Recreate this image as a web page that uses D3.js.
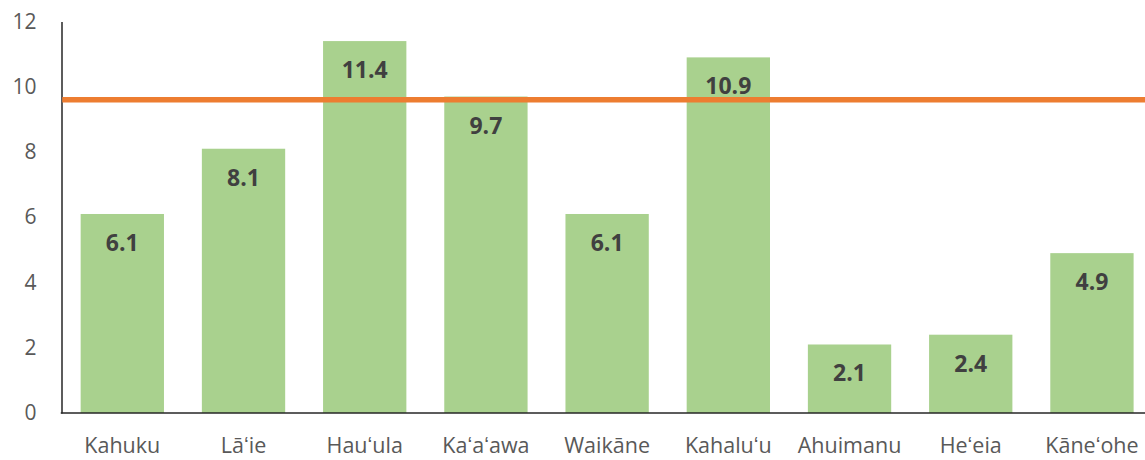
<!DOCTYPE html>
<html>
<head>
<meta charset="utf-8">
<script src="https://cdn.jsdelivr.net/npm/d3@7"></script>
<style>
  html, body { margin: 0; padding: 0; background: #ffffff; }
  svg { display: block; }
</style>
</head>
<body>
<svg id="chart" width="1145" height="460"></svg>
<script>
const categories = ["Kahuku", "Lāʻie", "Hauʻula", "Kaʻaʻawa", "Waikāne", "Kahaluʻu", "Ahuimanu", "Heʻeia", "Kāneʻohe"];
const values = [6.1, 8.1, 11.4, 9.7, 6.1, 10.9, 2.1, 2.4, 4.9];
const referenceValue = [9.6];
const yTicks = [0, 2, 4, 6, 8, 10, 12];

(function () {
const W = 1145, H = 460;
const svg = d3.select("#chart");
const mLeft = 61.5, mBottom = 413, mTop = 21.5;
const step = 121.25;

const x = d3.scaleBand()
  .domain(categories)
  .range([mLeft, mLeft + step * categories.length])
  .paddingInner(0.3126)
  .paddingOuter(0.158);

const y = d3.scaleLinear().domain([0, 12]).range([mBottom, mTop]);

const rows = categories.map((c, i) => ({ c, v: values[i] }));

// bars
svg.append("g").selectAll("rect")
  .data(rows)
  .join("rect")
  .attr("x", d => x(d.c))
  .attr("y", d => y(d.v))
  .attr("width", x.bandwidth())
  .attr("height", d => y(0) - y(d.v))
  .attr("fill", "#A9D18E");

// y axis
const yAxis = d3.axisLeft(y).tickValues(yTicks).tickSize(0).tickPadding(25).tickFormat(d3.format("d"));
const gy = svg.append("g").attr("transform", `translate(${mLeft},0)`).call(yAxis);
gy.select(".domain").attr("stroke", "#262626").attr("stroke-width", 1.5);
gy.selectAll("text")
  .attr("fill", "#595959")
  .style("font-family", "'Open Sans', sans-serif")
  .style("font-size", "21px");

// x axis
const xAxis = d3.axisBottom(x).tickSize(0).tickPadding(25);
const gx = svg.append("g").attr("transform", `translate(0,${mBottom})`).call(xAxis);
gx.select(".domain").remove();
gx.append("line")
  .attr("x1", mLeft - 0.75).attr("x2", W)
  .attr("y1", 0).attr("y2", 0)
  .attr("stroke", "#262626").attr("stroke-width", 1.5);
gx.selectAll("text")
  .attr("fill", "#595959")
  .style("font-family", "'Open Sans', sans-serif")
  .style("font-size", "21.5px");

// reference line
svg.append("g").selectAll("line")
  .data(referenceValue)
  .join("line")
  .attr("x1", mLeft + 0.75).attr("x2", W)
  .attr("y1", d => y(d)).attr("y2", d => y(d))
  .attr("stroke", "#ED7D31").attr("stroke-width", 5.5);

// value labels
svg.append("g").selectAll("text")
  .data(rows)
  .join("text")
  .attr("x", d => x(d.c) + x.bandwidth() / 2)
  .attr("y", d => y(d.v) + 37)
  .attr("text-anchor", "middle")
  .attr("fill", "#404040")
  .style("font-family", "'Open Sans', sans-serif")
  .style("font-weight", "bold")
  .style("font-size", "23px")
  .text(d => d3.format(".1f")(d.v));
})();
</script>
</body>
</html>
